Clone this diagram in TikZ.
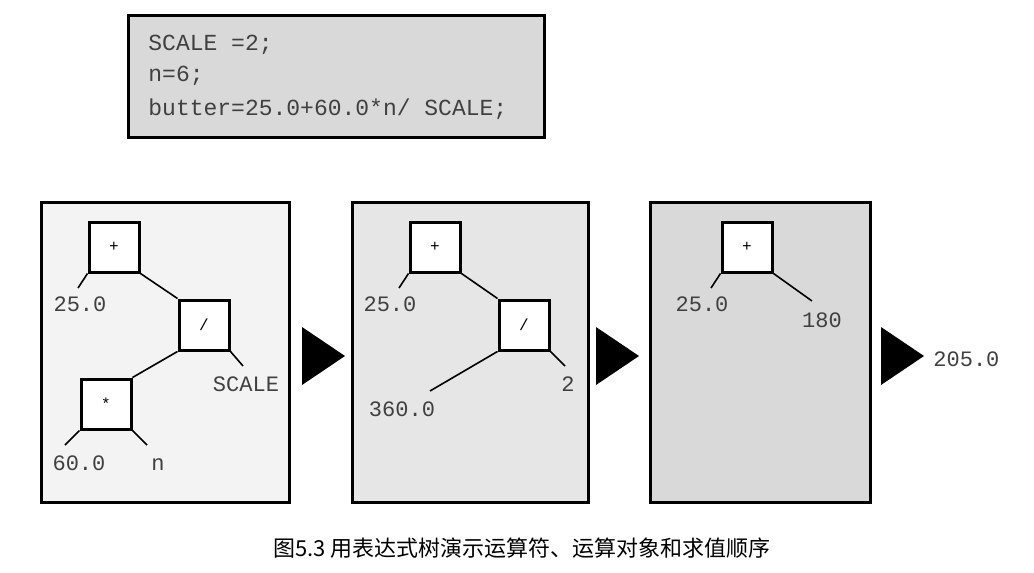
\documentclass[tikz,border=0pt]{standalone}
\usepackage{fontspec}
\setmonofont{Liberation Mono}
\newfontfamily\cjkfont{Noto Sans CJK SC}
\definecolor{codegray}{HTML}{D9D9D9}
\definecolor{stepone}{HTML}{F3F3F3}
\definecolor{steptwo}{HTML}{E6E6E6}
\definecolor{stepthree}{HTML}{D9D9D9}
\definecolor{labelgray}{HTML}{404040}
\tikzset{
  op/.style={draw, line width=1.5pt, fill=white, minimum size=25pt, inner sep=0pt,
    font=\ttfamily\fontsize{8}{9}\selectfont},
  lbl/.style={text=labelgray, inner sep=0pt, anchor=base,
    font=\ttfamily\fontsize{11}{13}\selectfont},
  codeline/.style={text=labelgray, inner sep=0pt, anchor=base west,
    font=\ttfamily\fontsize{11.5}{14}\selectfont},
  panel/.style={draw, line width=1.5pt},
  link/.style={line width=0.8pt}
}
\begin{document}
\begin{tikzpicture}[x=0.5pt,y=-0.5pt]
    \useasboundingbox (0,0) rectangle (1034,573);

    % Code
    \filldraw[panel, fill=codegray] (128,15) rectangle (544,137);
    \node[codeline] (line1) at (148,50) {SCALE =2;};
    \node[codeline] (line2) at (148,81) {n=6;};
    \node[codeline] (line3) at (148,115) {butter=25.0+60.0*n/ SCALE;};

    % Panels
    \filldraw[panel, fill=stepone] (41,202) rectangle (289,502);
    \filldraw[panel, fill=steptwo] (352,202) rectangle (588,502);
    \filldraw[panel, fill=stepthree] (650,202) rectangle (870,502);

    % Steps
    \foreach \x in {302,596,881} \fill (\x,327) -- (\x+43,356) -- (\x,385) -- cycle;

    % Step 1
    \node[op] (plusA) at (114,247) {+};
    \node[op] (divA) at (204,325) {/};
    \node[op] (mulA) at (106,404) {*};
    \node[lbl] (addendA) at (80,311) {25.0};
    \node[lbl] (scale) at (246,391) {SCALE};
    \node[lbl] (sixty) at (79,470) {60.0};
    \node[lbl] (n) at (158,470) {n};
    \coordinate (addendAend) at (78,288);
    \coordinate (scaleend) at (243,366);
    \coordinate (sixtyend) at (65,445);
    \coordinate (nend) at (147,445);
    \draw[link] (plusA.south west) -- (addendAend);
    \draw[link] (plusA.south east) -- (divA.north west);
    \draw[link] (divA.south east) -- (scaleend);
    \draw[link] (divA.south west) -- (mulA.north east);
    \draw[link] (mulA.south west) -- (sixtyend);
    \draw[link] (mulA.south east) -- (nend);

    % Step 2
    \node[op] (plusB) at (435,247) {+};
    \node[op] (divB) at (524,325) {/};
    \node[lbl] (addendB) at (390,311) {25.0};
    \node[lbl] (two) at (568,391) {2};
    \node[lbl] (product) at (402,416) {360.0};
    \coordinate (addendBend) at (399,288);
    \coordinate (twoend) at (565,366);
    \coordinate (productend) at (430,391);
    \draw[link] (plusB.south west) -- (addendBend);
    \draw[link] (plusB.south east) -- (divB.north west);
    \draw[link] (divB.south east) -- (twoend);
    \draw[link] (divB.south west) -- (productend);

    % Step 3
    \node[op] (plusC) at (747,247) {+};
    \node[lbl] (addendC) at (702,311) {25.0};
    \node[lbl] (quotient) at (822,327) {180};
    \coordinate (addendCend) at (711,288);
    \coordinate (quotientend) at (812,301);
    \draw[link] (plusC.south west) -- (addendCend);
    \draw[link] (plusC.south east) -- (quotientend);

    % Result
    \node[lbl, anchor=base west] (result) at (933,366) {205.0};

    % Caption
    \node[font=\cjkfont\fontsize{11}{13}\selectfont] (caption) at (522,548)
      {图5.3 用表达式树演示运算符、运算对象和求值顺序};
\end{tikzpicture}
\end{document}
